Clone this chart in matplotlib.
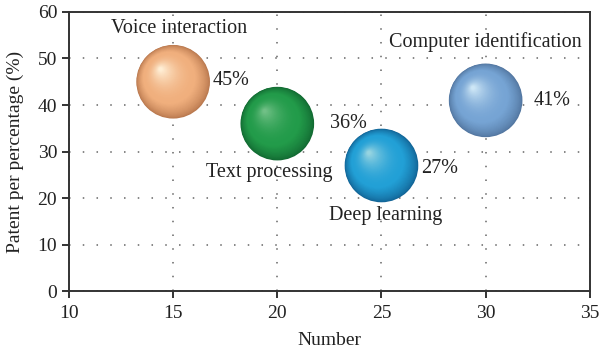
import numpy as np
import matplotlib
matplotlib.use('Agg')
import matplotlib.pyplot as plt
from matplotlib.transforms import offset_copy

# data
fields = ['Voice interaction', 'Text processing', 'Deep learning', 'Computer identification']
number = [15, 20, 25, 30]
share = [45, 36, 27, 41]
pct_labels = ['45%', '36%', '27%', '41%']

# sphere colours: edge (dark), body, highlight
shades = [
    ((185, 120, 78), (240, 175, 125), (255, 238, 212)),
    ((18, 105, 50), (34, 155, 74), (112, 192, 134)),
    ((18, 100, 150), (34, 160, 214), (150, 212, 225)),
    ((82, 118, 160), (118, 164, 212), (205, 230, 246)),
]

# label placement (data coords)
name_pos = [(15.3, 56.4), (19.6, 25.5), (25.2, 16.2), (30.0, 53.6)]
pct_pos = [(17.8, 45.3), (23.4, 36.0), (27.8, 26.4), (33.2, 41.0)]

plt.rcParams['font.family'] = 'Liberation Serif'
fig = plt.figure(figsize=(6, 3.52), dpi=100)
ax = fig.add_axes([0.115, 0.173, 0.868, 0.793])

D = 53.0  # sphere diameter in points
hx, hy = -0.3, 0.3  # highlight direction
N = 60
for k in range(len(number)):
    dark, body, light = [np.array(c) / 255.0 for c in shades[k]]
    for i in range(N):
        t = i / (N - 1)
        d = D * (1 - 0.95 * t)
        if t < 0.3:
            col = dark + (body - dark) * (t / 0.3) ** 0.7
        else:
            col = body + (light - body) * ((t - 0.3) / 0.7) ** 2.0
        off = (D - d) / 2.0
        tr = offset_copy(ax.transData, fig=fig, x=hx * off * 1.2, y=hy * off * 1.2, units='points')
        ax.scatter([number[k]], [share[k]], s=d ** 2, color=col, edgecolors='none',
                   transform=tr, zorder=3 + i * 0.001)

for k in range(len(fields)):
    x, y = name_pos[k]
    ax.text(x, y, fields[k], ha='center', va='center', fontsize=14.5, color='#222222', zorder=5)
    px, py = pct_pos[k]
    ax.text(px, py, pct_labels[k], ha='center', va='center', fontsize=14.5, color='#222222', zorder=5)

ax.set_xlim(10, 35)
ax.set_ylim(0, 60)
ax.set_xticks([10, 15, 20, 25, 30, 35])
ax.set_yticks([0, 10, 20, 30, 40, 50, 60])
ax.grid(True, color='#666666', linestyle=(0, (1, 8)), linewidth=1.1)
ax.set_axisbelow(True)
for s in ax.spines.values():
    s.set_color('#333333')
    s.set_linewidth(1.4)
ax.tick_params(direction='out', length=5, width=1.4, color='#333333', labelsize=14, labelcolor='#222222')
ax.tick_params(axis='x', pad=5)
ax.set_xlabel('Number', fontsize=14, color='#222222', labelpad=7)
ax.set_ylabel('Patent per percentage (%)', fontsize=14, color='#222222', labelpad=10)

fig.savefig('out.png', dpi=100)
